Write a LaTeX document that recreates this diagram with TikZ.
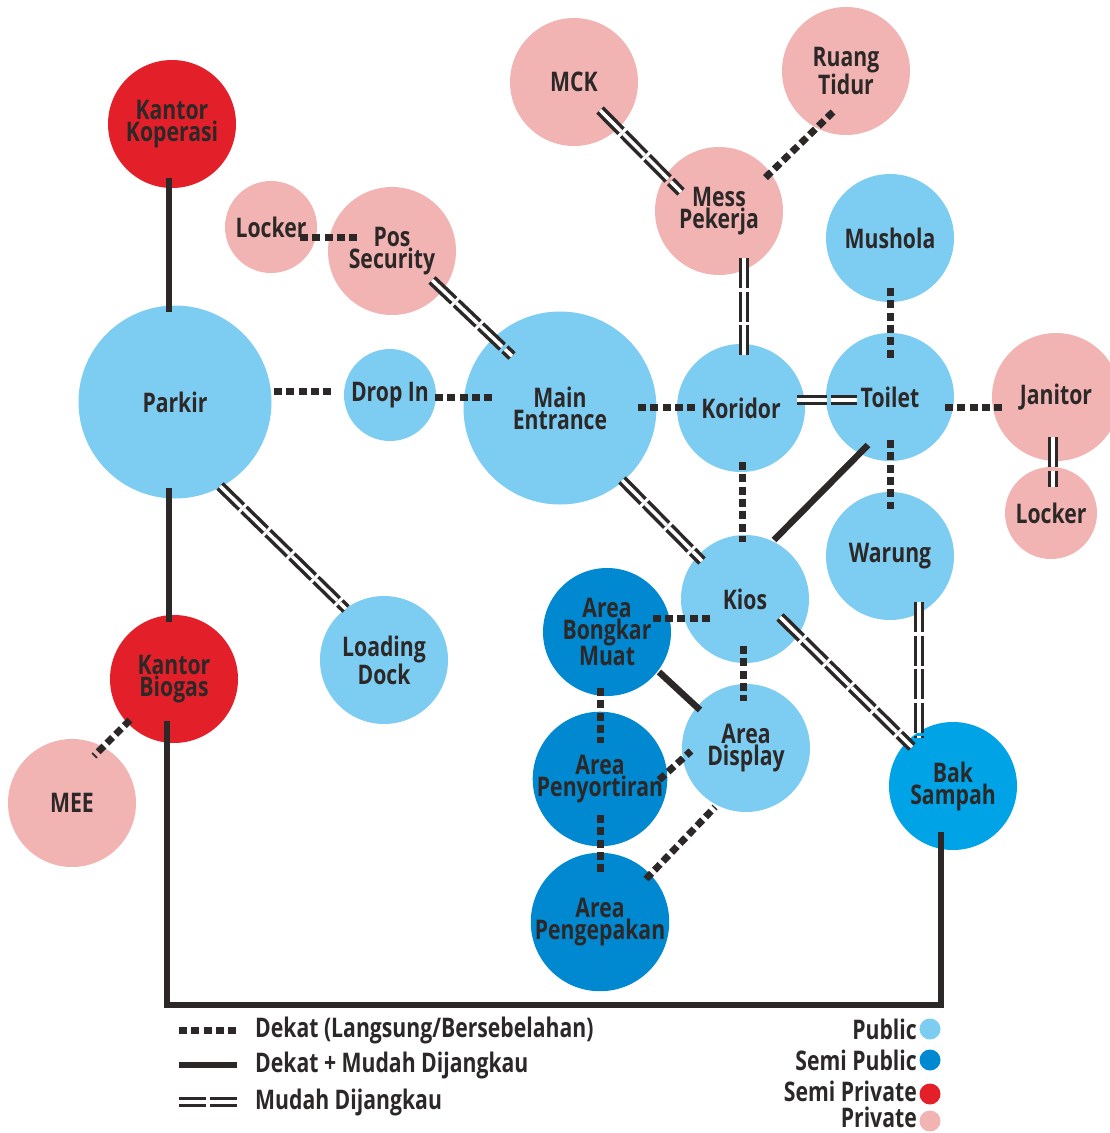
\documentclass[tikz,border=0pt]{standalone}
\usepackage{fontspec}
\setmainfont{Open Sans}[FakeStretch=0.785]
\usetikzlibrary{calc}
\definecolor{pubc}{HTML}{7DCCF2}
\definecolor{spubc}{HTML}{0088D1}
\definecolor{bakc}{HTML}{00A3E6}
\definecolor{sprivc}{HTML}{E3202A}
\definecolor{privc}{HTML}{F2B3B3}
\definecolor{ink}{HTML}{2D2828}
\begin{document}
\begin{tikzpicture}[x=1pt,y=-1pt,
  room/.style={circle, inner sep=0pt, minimum size=128pt, align=center, text=ink,
    font=\bfseries\fontsize{27}{22}\selectfont},
  small/.style={minimum size=92pt},
  big/.style={minimum size=193pt},
  pub/.style={room, fill=pubc},
  spub/.style={room, fill=spubc},
  spriv/.style={room, fill=sprivc},
  priv/.style={room, fill=privc},
  dotc/.style={draw=ink, line width=7pt, dash pattern=on 8pt off 4.3pt},
  solc/.style={draw=ink, line width=6.5pt},
  dblc/.style={draw=ink, line width=3.5pt, double=white, double distance=3.5pt,
    dash pattern=on 30pt off 3.5pt},
  legtxt/.style={inner sep=0pt, text=ink, font=\bfseries\fontsize{27}{22}\selectfont},
  legdot/.style={circle, inner sep=0pt, minimum size=21pt}
]
\useasboundingbox (0,0) rectangle (1109,1133);

% rooms
\node[spriv] (kop) at (172,124) {Kantor\\Koperasi};
\node[priv, small] (lockL) at (271,227) {Locker};
\node[priv] (pos) at (392,251) {Pos\\Security};
\node[pub, big] (park) at (175,402) {Parkir};
\node[pub, small] (drop) at (390,395) {Drop In};
\node[pub, big] (main) at (560,408) {Main\\Entrance};
\node[priv] (mck) at (574,82) {MCK};
\node[priv] (ruang) at (846,71) {Ruang\\Tidur};
\node[priv] (mess) at (719,211) {Mess\\Pekerja};
\node[pub] (mush) at (890,238) {Mushola};
\node[pub] (kor) at (741,408) {Koridor};
\node[pub] (toi) at (890,397) {Toilet};
\node[priv] (jan) at (1056,397) {Janitor};
\node[priv, small] (lockR) at (1051,513) {Locker};
\node[pub] (war) at (890,556) {Warung};
\node[pub] (kios) at (745,599) {Kios};
\node[spub] (abm) at (607,632) {Area\\Bongkar\\Muat};
\node[pub] (disp) at (746,748) {Area\\Display};
\node[spub] (peny) at (600,779) {Area\\Penyortiran};
\node[spub] (peng) at (600,922) {Area\\Pengepakan};
\node[room, fill=bakc] (bak) at (953,786) {Bak\\Sampah};
\node[spriv] (kbio) at (174,679) {Kantor\\Biogas};
\node[pub] (load) at (384,660) {Loading\\Dock};
\node[priv] (mee) at (72,803) {MEE};

% connectors
\draw[solc] ($(kop)+(-3,54)$) -- ($(park)+(-6,-90)$);
\draw[solc] ($(park)+(-6,86)$) -- ($(kbio)+(-5,-57)$);
\draw[solc] ($(kbio)+(-7,42)$) |- ($(bak)+(-12,219)$) -- ($(bak)+(-12,46)$);
\draw[dotc] ($(kbio)+(-44,41)$) -- ($(mee)+(22,-47)$);
\draw[dotc] ($(park)+(99,-11)$) -- ($(drop)+(-58,-4)$);
\draw[dotc] ($(drop)+(45,2)$) -- ($(main)+(-68,-11)$);
\draw[dotc] ($(lockL)+(29,10)$) -- ($(pos)+(-35,-14)$);
\draw[dblc] ($(pos)+(40,29)$) -- ($(main)+(-48,-52)$);
\draw[dblc] ($(park)+(45,84)$) -- ($(load)+(-38,-51)$);
\draw[dblc] ($(mck)+(26,28)$) -- ($(mess)+(-38,-19)$);
\draw[dotc] ($(ruang)+(-13,41)$) -- ($(mess)+(44,-31)$);
\draw[dblc] ($(mess)+(25,47)$) -- ($(kor)+(3,-51)$);
\draw[dotc] ($(main)+(78,-1)$) -- ($(kor)+(-46,-1)$);
\draw[dblc] ($(kor)+(56,-8)$) -- ($(toi)+(-33,3)$);
\draw[dotc] ($(mush)+(0,50)$) -- ($(toi)+(0,-39)$);
\draw[dotc] ($(toi)+(55,10)$) -- ($(jan)+(-54,10)$);
\draw[dblc] ($(jan)+(-3,40)$) -- ($(lockR)+(2,-26)$);
\draw[dotc] ($(toi)+(0,43)$) -- ($(war)+(0,-47)$);
\draw[solc] ($(toi)+(-22,48)$) -- ($(kios)+(29,-59)$);
\draw[dotc] ($(kor)+(1,54)$) -- ($(kios)+(-3,-57)$);
\draw[dblc] ($(main)+(62,72)$) -- ($(kios)+(-43,-38)$);
\draw[dotc] ($(kios)+(-35,19)$) -- ($(abm)+(46,-14)$);
\draw[dotc] ($(kios)+(-2,47)$) -- ($(disp)+(-3,-47)$);
\draw[solc] ($(abm)+(52,40)$) -- ($(disp)+(-46,-38)$);
\draw[dotc] ($(abm)+(-7,56)$) -- ($(peny)+(0,-36)$);
\draw[dotc] ($(peny)+(59,1)$) -- ($(disp)+(-55,3)$);
\draw[dotc] ($(peny)+(0,36)$) -- ($(peng)+(0,-50)$);
\draw[dotc] ($(peng)+(46,-43)$) -- ($(disp)+(-31,59)$);
\draw[dblc] ($(kios)+(35,18)$) -- ($(bak)+(-41,-39)$);
\draw[dblc] ($(war)+(29,46)$) -- ($(bak)+(-34,-48)$);

% legend: connectors
\coordinate (l1a) at (179,1030); \coordinate (l1b) at (237,1030);
\coordinate (l2a) at (179,1065); \coordinate (l2b) at (237,1065);
\coordinate (l3a) at (179,1102); \coordinate (l3b) at (237,1102);
\draw[dotc] (l1a) -- (l1b);
\draw[solc] (l2a) -- (l2b);
\draw[dblc, dash pattern=on 27pt off 4pt] (l3a) -- (l3b);
\node[legtxt, anchor=west] (lt1) at (255,1030) {Dekat (Langsung/Bersebelahan)};
\node[legtxt, anchor=west] (lt2) at (255,1065) {Dekat + Mudah Dijangkau};
\node[legtxt, anchor=west] (lt3) at (255,1102) {Mudah Dijangkau};

% legend: zones
\node[legdot, fill=pubc] (d1) at (930,1029) {};
\node[legdot, fill=spubc] (d2) at (930,1060) {};
\node[legdot, fill=sprivc] (d3) at (930,1094) {};
\node[legdot, fill=privc] (d4) at (930,1121) {};
\node[legtxt, anchor=east] (z1) at (917,1029) {Public};
\node[legtxt, anchor=east] (z2) at (917,1060) {Semi Public};
\node[legtxt, anchor=east] (z3) at (917,1091) {Semi Private};
\node[legtxt, anchor=east] (z4) at (917,1117) {Private};
\end{tikzpicture}
\end{document}
